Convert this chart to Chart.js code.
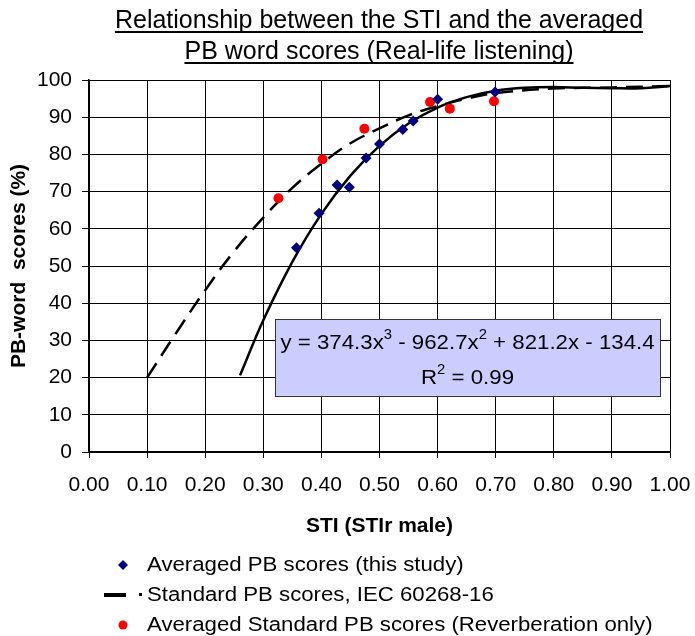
<!DOCTYPE html>
<html>
<head>
<meta charset="utf-8">
<script src="https://cdn.jsdelivr.net/npm/chart.js@4/dist/chart.umd.min.js"></script>
<style>
  body { margin: 0; background: #fff; }
  canvas { display: block; }
</style>
</head>
<body>
<canvas id="chart" width="695" height="636"></canvas>
<script>
// Averaged PB scores (this study)
const stiStudy = [0.357, 0.396, 0.427, 0.448, 0.477, 0.500, 0.540, 0.558, 0.600, 0.699];
const pbStudy  = [54.9, 64.2, 71.8, 71.2, 79.0, 82.8, 86.7, 89.0, 94.8, 96.8];

// Averaged Standard PB scores (Reverberation only)
const stiReverb = [0.326, 0.402, 0.474, 0.587, 0.621, 0.697];
const pbReverb  = [68.2, 78.7, 86.9, 94.1, 92.3, 94.3];

// Standard PB scores, IEC 60268-16 (dashed curve)
const stiStandard = [0.10, 0.15, 0.20, 0.25, 0.30, 0.35, 0.40, 0.45, 0.50, 0.55, 0.60, 0.65, 0.70, 0.80, 0.90, 1.00];
const pbStandard  = [20.0, 32.0, 43.5, 54.0, 63.0, 71.0, 77.5, 83.0, 87.0, 90.5, 93.0, 95.0, 96.5, 97.7, 98.0, 98.4];

// trendline through this study's points (solid curve)
const stiFit = [0.26, 0.30, 0.35, 0.40, 0.45, 0.50, 0.55, 0.60, 0.65, 0.70, 0.75, 0.80, 0.85, 0.90, 0.95, 1.00];
const pbFit  = [20.6, 35.4, 51.1, 64.0, 74.3, 82.3, 88.3, 92.6, 95.4, 97.1, 97.9, 98.1, 97.9, 97.8, 97.8, 98.4];

const xTicks = [0, 0.1, 0.2, 0.3, 0.4, 0.5, 0.6, 0.7, 0.8, 0.9, 1.0];

const titleLines = ['Relationship between the STI and the averaged', 'PB word scores (Real-life listening)'];
const eqParts = [['y = 374.3x', ''], ['3', 'sup'], [' - 962.7x', ''], ['2', 'sup'], [' + 821.2x - 134.4', '']];
const r2Parts = [['R', ''], ['2', 'sup'], [' = 0.99', '']];
const legendLabels = ['Averaged PB scores (this study)', 'Standard PB scores, IEC 60268-16', 'Averaged Standard PB scores (Reverberation only)'];

const FONT = '"Liberation Sans", Arial, sans-serif';

const toXY = (xs, ys) => xs.map((x, i) => ({ x: x, y: ys[i] }));

function drawParts(ctx, parts, cx, cy, size) {
    const big = size + 'px ' + FONT;
    const small = Math.round(size * 0.66) + 'px ' + FONT;
    let total = 0;
    parts.forEach(p => {
        ctx.font = p[1] ? small : big;
        total += ctx.measureText(p[0]).width;
    });
    let x = cx - total / 2;
    ctx.textAlign = 'left';
    ctx.textBaseline = 'middle';
    parts.forEach(p => {
        ctx.font = p[1] ? small : big;
        ctx.fillText(p[0], x, p[1] ? cy - size * 0.36 : cy);
        x += ctx.measureText(p[0]).width;
    });
}

// text a little wider than the font, like the original export
function wideText(ctx, text, x, y, sx) {
    ctx.save();
    ctx.translate(x, y);
    ctx.scale(sx, 1);
    ctx.fillText(text, 0, 0);
    ctx.restore();
}

const decorPlugin = {
    id: 'decor',
    beforeDraw(chart) {
        const ctx = chart.ctx;
        ctx.save();
        ctx.fillStyle = '#fff';
        ctx.fillRect(0, 0, chart.width, chart.height);
        ctx.restore();
    },
    afterDatasetsDraw(chart) {
        // equation box, anchored in data space
        const ctx = chart.ctx;
        const xs = chart.scales.x, ys = chart.scales.y;
        const l = xs.getPixelForValue(0.32), r = xs.getPixelForValue(0.983);
        const t = ys.getPixelForValue(35.7), b = ys.getPixelForValue(15.1);
        ctx.save();
        ctx.fillStyle = '#CCCCFF';
        ctx.fillRect(l, t, r - l, b - t);
        ctx.strokeStyle = '#333';
        ctx.lineWidth = 1;
        ctx.strokeRect(Math.round(l) + 0.5, Math.round(t) + 0.5, Math.round(r - l), Math.round(b - t));
        ctx.fillStyle = '#000';
        const cx = (l + r) / 2;
        ctx.save();
        ctx.translate(cx, 0);
        ctx.scale(1.06, 1);
        drawParts(ctx, eqParts, 0, t + 24, 21);
        drawParts(ctx, r2Parts, 0, t + 59, 21);
        ctx.restore();
        ctx.restore();
    },
    afterDraw(chart) {
        const ctx = chart.ctx;
        ctx.save();
        // title, underlined
        ctx.fillStyle = '#000';
        ctx.strokeStyle = '#000';
        ctx.font = '25px ' + FONT;
        ctx.textAlign = 'center';
        ctx.textBaseline = 'alphabetic';
        const cx = 379;
        titleLines.forEach((line, i) => {
            const y = 28 + i * 31;
            ctx.fillText(line, cx, y);
            const w = ctx.measureText(line).width;
            ctx.lineWidth = 2;
            ctx.beginPath();
            ctx.moveTo(cx - w / 2, y + 4);
            ctx.lineTo(cx + w / 2, y + 4);
            ctx.stroke();
        });

        // legend
        const top = chart.chartArea.bottom;
        const mx = 123, tx = 147;
        const rows = [top + 113, top + 143, top + 173];
        ctx.font = '20px ' + FONT;
        ctx.textAlign = 'left';
        ctx.textBaseline = 'middle';
        ctx.fillStyle = '#000';
        legendLabels.forEach((lab, i) => wideText(ctx, lab, tx, rows[i], 1.11));

        ctx.fillStyle = '#000080';
        ctx.beginPath();
        ctx.moveTo(mx - 5, rows[0]);
        ctx.lineTo(mx, rows[0] - 5);
        ctx.lineTo(mx + 5, rows[0]);
        ctx.lineTo(mx, rows[0] + 5);
        ctx.closePath();
        ctx.fill();

        ctx.fillStyle = '#000';
        ctx.fillRect(104, rows[1] - 2, 22, 4);
        ctx.fillRect(139, rows[1] - 2, 3, 3);

        ctx.fillStyle = '#FF0000';
        ctx.beginPath();
        ctx.arc(mx, rows[2], 4.5, 0, Math.PI * 2);
        ctx.fill();
        ctx.restore();
    }
};

const ctx = document.getElementById('chart').getContext('2d');
const chart = new Chart(ctx, {
    type: 'scatter',
    data: {
        datasets: [
            {
                label: 'Averaged PB scores (this study)',
                data: toXY(stiStudy, pbStudy),
                pointStyle: 'rectRot',
                pointRadius: 5.5,
                backgroundColor: '#000080',
                borderColor: '#000080',
                borderWidth: 0,
                order: 1
            },
            {
                label: 'Averaged Standard PB scores (Reverberation only)',
                data: toXY(stiReverb, pbReverb),
                pointStyle: 'circle',
                pointRadius: 5,
                backgroundColor: '#FF0000',
                borderColor: '#FF0000',
                borderWidth: 0,
                order: 1
            },
            {
                label: 'Standard PB scores, IEC 60268-16',
                data: toXY(stiStandard, pbStandard),
                showLine: true,
                borderColor: '#000',
                borderWidth: 2.5,
                borderDash: [17, 9],
                pointRadius: 0,
                tension: 0.4,
                order: 2
            },
            {
                label: 'Trendline',
                data: toXY(stiFit, pbFit),
                showLine: true,
                borderColor: '#000',
                borderWidth: 2.5,
                pointRadius: 0,
                tension: 0.4,
                order: 2
            }
        ]
    },
    options: {
        responsive: false,
        animation: false,
        layout: { padding: { left: 0, right: 25, top: 80, bottom: 97 } },
        scales: {
            x: {
                type: 'linear',
                min: 0,
                max: 1,
                afterFit: (s) => { s.height = 87; s.paddingLeft = 0; s.paddingRight = 0; },
                afterBuildTicks: (s) => { s.ticks = xTicks.map(v => ({ value: v })); },
                ticks: {
                    callback: (v) => Number(v).toFixed(2),
                    color: '#000',
                    font: { family: FONT, size: 21 },
                    padding: 15,
                    maxRotation: 0,
                    autoSkip: false
                },
                grid: { color: '#000', lineWidth: 1, tickLength: 6, tickColor: '#000' },
                border: { color: '#000', width: 1.5 },
                title: {
                    display: true,
                    text: 'STI (STIr male)',
                    color: '#000',
                    font: { family: FONT, size: 21, weight: 'bold' },
                    padding: { top: 0, bottom: 0 }
                }
            },
            y: {
                min: 0,
                max: 100,
                afterFit: (s) => { s.width = 89; s.paddingTop = 0; s.paddingBottom = 0; },
                ticks: {
                    stepSize: 10,
                    color: '#000',
                    font: { family: FONT, size: 21 },
                    padding: 10
                },
                grid: { color: '#000', lineWidth: 1, tickLength: 7, tickColor: '#000' },
                border: { color: '#000', width: 1.5 },
                title: {
                    display: true,
                    text: 'PB-word  scores (%)',
                    color: '#000',
                    font: { family: FONT, size: 21, weight: 'bold' },
                    padding: { top: 7, bottom: 0 }
                }
            }
        },
        plugins: {
            legend: { display: false },
            tooltip: { enabled: false }
        }
    },
    plugins: [decorPlugin]
});
</script>
</body>
</html>
